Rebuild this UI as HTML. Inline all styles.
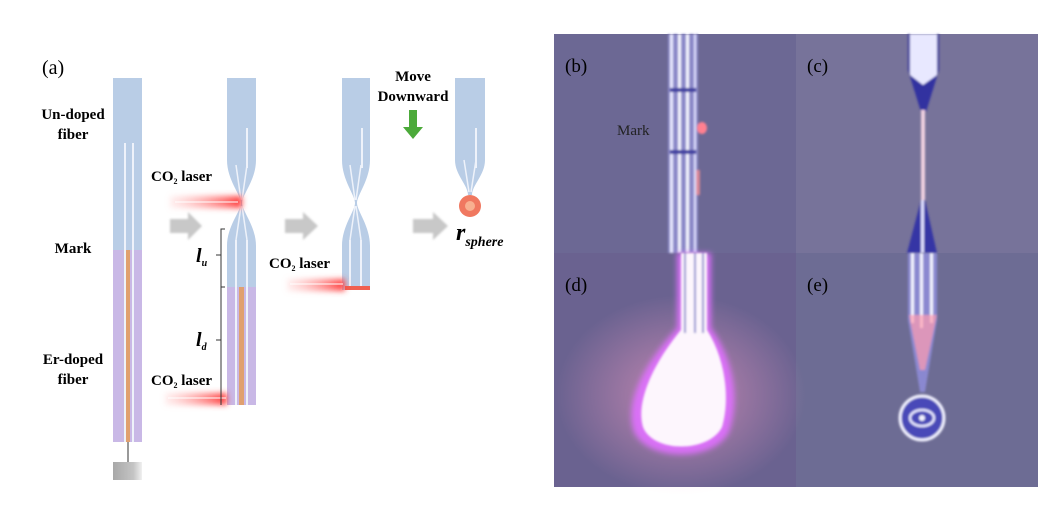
<!DOCTYPE html>
<html><head><meta charset="utf-8"><style>
html,body{margin:0;padding:0;background:#fff;}
svg{display:block;}
text{font-family:"Liberation Serif",serif;}
</style></head><body>
<svg width="1044" height="525" viewBox="0 0 1044 525" xmlns="http://www.w3.org/2000/svg">
<defs>
<linearGradient id="gray" x1="0" x2="1"><stop offset="0" stop-color="#a8a8a8"/><stop offset="0.7" stop-color="#c4c4c4"/><stop offset="1" stop-color="#f0f0f0"/></linearGradient>
<linearGradient id="laser" x1="0" x2="1"><stop offset="0" stop-color="#ffb0b0" stop-opacity="0.2"/><stop offset="1" stop-color="#ff3a3a"/></linearGradient>
<filter id="bl" x="-50%" y="-50%" width="200%" height="200%"><feGaussianBlur stdDeviation="3"/></filter>
<filter id="bl1"><feGaussianBlur stdDeviation="1"/></filter>
<radialGradient id="glow"><stop offset="0" stop-color="#ffa0c8" stop-opacity="0.6"/><stop offset="1" stop-color="#ffa0c8" stop-opacity="0"/></radialGradient>
</defs>
<text x="42" y="74" font-size="20">(a)</text>
<g font-weight="bold" font-size="15" text-anchor="middle">
<text x="73" y="119">Un-doped</text><text x="73" y="139">fiber</text>
<text x="73" y="253">Mark</text>
<text x="73" y="364">Er-doped</text><text x="73" y="384">fiber</text>
<text x="413" y="81">Move</text><text x="413" y="101">Downward</text>
</g>
<!-- fiber 1 -->
<rect x="113" y="78" width="29" height="172" fill="#b9cde6"/>
<rect x="113" y="250" width="29" height="192" fill="#c9b8e6"/>
<rect x="124" y="143" width="2" height="299" fill="#eef2fa"/>
<rect x="132" y="143" width="2" height="299" fill="#eef2fa"/>
<rect x="126" y="250" width="4" height="192" fill="#e0a070"/>
<line x1="128" y1="442" x2="128" y2="462" stroke="#333" stroke-width="1"/>
<rect x="113" y="462" width="29" height="18" fill="url(#gray)"/>
<!-- fiber 2 -->
<path d="M227 78 H256 V160 C256 180 242 195 242 203 C242 211 256 226 256 246 V405 H227 V246 C227 226 241 211 241 203 C241 195 227 180 227 160 Z" fill="#b9cde6"/>
<rect x="227" y="287" width="29" height="118" fill="#c9b8e6"/>
<rect x="246" y="128" width="2" height="40" fill="#eef2fa"/>
<path d="M236 165 L241 200 M247 165 L242 200 M236 240 L241 206 M247 240 L242 206" stroke="#eef2fa" stroke-width="1.5"/>
<rect x="235" y="240" width="2" height="165" fill="#eef2fa"/>
<rect x="246" y="240" width="2" height="165" fill="#eef2fa"/>
<rect x="239" y="287" width="5" height="118" fill="#e0a070"/>
<!-- fiber 3 -->
<path d="M342 78 H370 V160 C370 180 357 195 357 203 C357 211 370 226 370 246 V290 H342 V246 C342 226 355 211 355 203 C355 195 342 180 342 160 Z" fill="#b9cde6"/>
<rect x="361" y="128" width="2" height="40" fill="#eef2fa"/>
<path d="M350 165 L355 200 M361 165 L356 200 M350 240 L355 206 M361 240 L356 206" stroke="#eef2fa" stroke-width="1.5"/>
<rect x="349" y="240" width="2" height="50" fill="#eef2fa"/>
<rect x="360" y="240" width="2" height="50" fill="#eef2fa"/>
<rect x="345" y="286" width="25" height="4" fill="#f06050"/>
<!-- fiber 4 -->
<path d="M455 78 H485 V160 C485 175 472 185 472 195 H468 C468 185 455 175 455 160 Z" fill="#b9cde6"/>
<rect x="475" y="128" width="2" height="40" fill="#eef2fa"/>
<path d="M464 160 L469 192 M476 160 L471 192" stroke="#eef2fa" stroke-width="1.5"/>
<circle cx="470" cy="206" r="11" fill="#f07860"/>
<circle cx="470" cy="206" r="5" fill="#f8b090"/>
<!-- gray arrows -->
<g fill="#c8c8c8" filter="url(#bl1)">
<path d="M170 219 H188 V212 L202 226 L188 240 V233 H170 Z"/>
<path d="M285 219 H303 V212 L318 226 L303 240 V233 H285 Z"/>
<path d="M413 219 H433 V212 L448 226 L433 240 V233 H413 Z"/>
</g>
<!-- green arrow -->
<path d="M409 110 H417 V127 H423 L413 139 L403 127 H409 Z" fill="#4caa3a"/>
<!-- lasers -->
<g filter="url(#bl)"><rect x="170" y="196" width="72" height="12" fill="url(#laser)"/>
<rect x="165" y="393" width="62" height="12" fill="url(#laser)"/>
<rect x="287" y="279" width="58" height="12" fill="url(#laser)"/></g>
<g stroke="#fff" stroke-width="1"><line x1="175" y1="202" x2="238" y2="202"/><line x1="168" y1="398" x2="226" y2="398"/><line x1="290" y1="284" x2="343" y2="284"/></g>
<g font-weight="bold" font-size="15">
<text x="151" y="181">CO<tspan font-size="8" dy="3">2</tspan><tspan dy="-3"> laser</tspan></text>
<text x="151" y="385">CO<tspan font-size="8" dy="3">2</tspan><tspan dy="-3"> laser</tspan></text>
<text x="269" y="268">CO<tspan font-size="8" dy="3">2</tspan><tspan dy="-3"> laser</tspan></text>
</g>
<!-- brackets -->
<path d="M225 229 H221 V287 M221 287 H225 M221 287 V405 M221 255 H216 M221 340 H216" stroke="#333" fill="none" stroke-width="1"/>
<text x="196" y="262" font-size="20" font-weight="bold" font-style="italic">l<tspan font-size="10" dy="4">u</tspan></text>
<text x="196" y="346" font-size="20" font-weight="bold" font-style="italic">l<tspan font-size="10" dy="4">d</tspan></text>
<text x="456" y="240" font-size="24" font-weight="bold" font-style="italic">r<tspan font-size="14" dy="6">sphere</tspan></text>

<!-- photos -->
<rect x="554" y="34" width="484" height="453" fill="#6f6c96"/>
<rect x="554" y="34" width="242" height="219" fill="#6c6894"/>
<rect x="796" y="34" width="242" height="219" fill="#77739a"/>
<rect x="554" y="253" width="242" height="234" fill="#6a6290"/>
<rect x="796" y="253" width="242" height="234" fill="#6d6c94"/>
<!-- b -->
<g filter="url(#bl1)">
<rect x="668" y="34" width="30" height="219" fill="#8a88c8"/>
<rect x="670" y="34" width="3" height="219" fill="#e8e8ff"/>
<rect x="678" y="34" width="3" height="219" fill="#f4f4ff"/>
<rect x="686" y="34" width="3" height="219" fill="#f4f4ff"/>
<rect x="694" y="34" width="2" height="219" fill="#e0e0ff"/>
<rect x="670" y="88" width="26" height="4" fill="#4040a0"/>
<rect x="670" y="150" width="26" height="4" fill="#4040a0"/>
<ellipse cx="702" cy="128" rx="5" ry="6" fill="#ff8090"/>
<rect x="696" y="170" width="4" height="25" fill="#ff9090" opacity=".7"/>
</g>
<text x="565" y="72" font-size="19">(b)</text>
<text x="617" y="135" font-size="15" fill="#222">Mark</text>
<!-- c -->
<g filter="url(#bl1)">
<path d="M908 34 H939 V70 L926 112 H921 L908 70 Z" fill="#3030a0"/>
<path d="M910 34 H937 V75 L923 85 L910 75 Z" fill="#e8e8ff"/>
<rect x="921" y="110" width="4" height="100" fill="#f0d0e0"/>
<path d="M921 200 H925 L937 253 H907 Z" fill="#3535a5"/>
<rect x="921" y="200" width="3" height="53" fill="#e0e0ff"/>
</g>
<text x="807" y="72" font-size="19">(c)</text>
<!-- d -->
<ellipse cx="681" cy="395" rx="125" ry="100" fill="url(#glow)"/>
<g filter="url(#bl)">
<path d="M677 253 H711 V328 C734 360 740 400 729 432 C714 462 648 462 634 432 C623 400 648 360 677 328 Z" fill="#e070ff" opacity=".9"/>
</g>
<g filter="url(#bl1)">
<path d="M681 253 H707 V330 C726 360 730 400 722 427 C709 453 653 453 643 427 C635 400 656 360 681 330 Z" fill="#fdf6fd"/>
<rect x="684" y="253" width="2" height="80" fill="#9090d0"/><rect x="694" y="253" width="2" height="80" fill="#9090d0"/><rect x="702" y="253" width="2" height="80" fill="#9090d0"/>
</g>
<text x="565" y="291" font-size="19">(d)</text>
<!-- e -->
<g filter="url(#bl1)">
<path d="M908 253 H937 V320 L925 392 H920 L908 320 Z" fill="#8a88d0"/>
<rect x="911" y="253" width="3" height="70" fill="#f4f4ff"/><rect x="920" y="253" width="3" height="75" fill="#f4f4ff"/><rect x="930" y="253" width="3" height="70" fill="#f4f4ff"/>
<path d="M909 315 H937 L925 370 H920 Z" fill="#ff9db0" opacity=".7"/>
<circle cx="922" cy="418" r="22" fill="#4848b8" stroke="#f2f2ff" stroke-width="3"/>
<ellipse cx="922" cy="418" rx="12" ry="8" fill="none" stroke="#e8e8ff" stroke-width="2.5"/>
<circle cx="922" cy="418" r="3" fill="#f4f4ff"/>
</g>
<text x="807" y="291" font-size="19">(e)</text>
</svg>
</body></html>
